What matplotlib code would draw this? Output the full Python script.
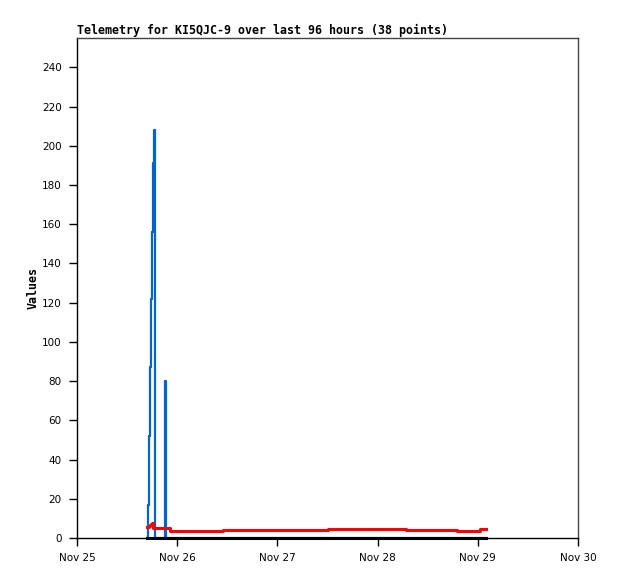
import numpy as np
import pandas as pd
import matplotlib
matplotlib.use("Agg")
import matplotlib.pyplot as plt

# Telemetrie-Punkte (Stunden ab 25. Nov 00:00)
hours = [16.85, 17.0, 17.25, 17.5, 17.75, 18.0, 18.25, 18.42, 18.58, 18.75,
         21.0, 21.17, 21.33, 22.3, 25.0, 28.0, 31.0, 34.8, 35.0, 40.0,
         45.0, 50.0, 55.0, 59.9, 60.1, 64.0, 68.0, 72.0, 76.0, 78.8,
         82.0, 86.0, 90.9, 91.0, 93.0, 95.0, 96.5, 98.0]

blue_vals = [0, 17, 52, 87, 122, 156, 191, 208, 104, 0,
             0, 80, 0, 0, 0, 0, 0, 0, 0, 0,
             0, 0, 0, 0, 0, 0, 0, 0, 0, 0,
             0, 0, 0, 0, 0, 0, 0, 0]

red_vals = [5.6, 5.6, 6.2, 6.8, 7.2, 7.7, 5.0, 5.0, 5.0, 5.0,
            5.0, 5.0, 5.0, 3.8, 3.8, 3.8, 3.8, 3.8, 4.3, 4.3,
            4.3, 4.3, 4.3, 4.3, 4.8, 4.8, 4.8, 4.8, 4.8, 4.3,
            4.3, 4.3, 4.3, 3.8, 3.8, 3.8, 4.8, 4.8]

black_vals = [0] * 38

day_labels = ["Nov 25", "Nov 26", "Nov 27", "Nov 28", "Nov 29", "Nov 30"]

start = pd.Timestamp("2024-11-25 00:00")
t = (start + pd.to_timedelta(hours, unit="h")).to_pydatetime()

fig = plt.figure(figsize=(6.18, 5.79), dpi=100)
ax = fig.add_axes([77/618, 1 - 538/579, 501/618, 500/579])

ax.plot(t, blue_vals, color="#0066cc", lw=1.6, drawstyle="steps-post")
ax.plot(t, red_vals, color="#ff0000", lw=2.2, drawstyle="steps-post")
ax.plot(t, black_vals, color="black", lw=2.2, zorder=5, clip_on=False)

ticks = [start + pd.Timedelta(days=i) for i in range(6)]
ax.set_xlim(ticks[0], ticks[-1])
ax.set_xticks([d.to_pydatetime() for d in ticks])
ax.set_xticklabels(day_labels)
ax.set_ylim(0, 255)
ax.set_yticks(np.arange(0, 241, 20))

ax.tick_params(direction="out", length=6, width=1, labelsize=7.5, pad=5, colors="black")
ax.spines["top"].set_color("#444444")
ax.spines["right"].set_color("#444444")
for s in ax.spines.values():
    s.set_linewidth(1)

ax.set_ylabel("Values", family="DejaVu Sans Mono", fontweight="bold", fontsize=8.4, labelpad=2)
ax.set_title("Telemetry for KI5QJC-9 over last 96 hours (38 points)",
             family="DejaVu Sans Mono", fontweight="bold", fontsize=8.4, loc="left", pad=3)

fig.savefig("out.png", dpi=100)
